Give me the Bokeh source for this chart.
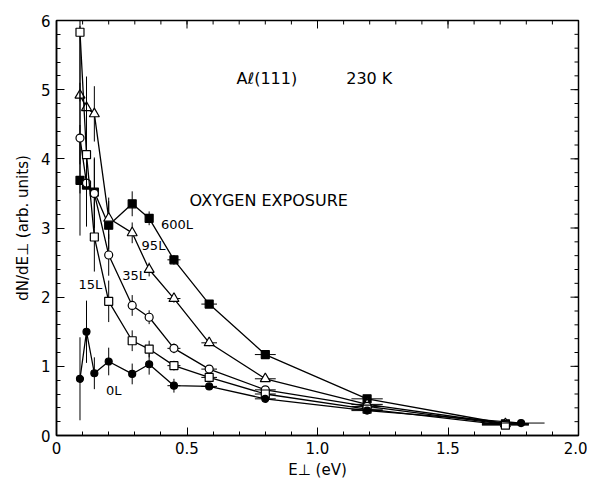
from bokeh.plotting import figure
from bokeh.models import Range1d, Label, FixedTicker
from bokeh.embed import file_html
from bokeh.resources import INLINE

# ---- data ----
x_pts = [0.09, 0.115, 0.145, 0.20, 0.29, 0.355, 0.45, 0.585, 0.80, 1.19, 1.72]
x_0L = [0.09, 0.115, 0.145, 0.20, 0.29, 0.355, 0.45, 0.585, 0.80, 1.19, 1.78]

y_600L = [3.69, 3.62, 3.52, 3.04, 3.35, 3.14, 2.54, 1.90, 1.17, 0.53, 0.17]
y_95L = [4.92, 4.74, 4.65, 3.14, 2.93, 2.40, 1.98, 1.34, 0.82, 0.45, 0.17]
y_35L = [4.30, 3.65, 3.50, 2.61, 1.88, 1.71, 1.26, 0.96, 0.66, 0.42, 0.16]
y_15L = [5.83, 4.06, 2.87, 1.94, 1.37, 1.25, 1.01, 0.84, 0.60, 0.38, 0.15]
y_0L = [0.82, 1.50, 0.90, 1.07, 0.89, 1.03, 0.72, 0.71, 0.53, 0.36, 0.18]

ey_600L = [0.8, 0.6, 0.5, 0.35, 0.18, 0.10, 0.07, 0.05, 0.04, 0.03, 0.02]
ey_95L = [1.0, 0.45, 0.40, 0.30, 0.15, 0.10, 0.06, 0.05, 0.04, 0.03, 0.02]
ey_35L = [0.8, 0.6, 0.5, 0.30, 0.15, 0.10, 0.07, 0.05, 0.04, 0.03, 0.02]
ey_15L = [1.0, 0.9, 0.5, 0.30, 0.15, 0.12, 0.07, 0.05, 0.04, 0.03, 0.02]
ey_0L = [0.6, 0.45, 0.23, 0.20, 0.15, 0.15, 0.10, 0.05, 0.04, 0.03, 0.02]
ex_all = [0.0, 0.0, 0.0, 0.0, 0.0, 0.0, 0.025, 0.03, 0.04, 0.06, 0.09]

x_ticks = [0, 0.5, 1.0, 1.5, 2.0]
x_tick_labels = ["0", "0.5", "1.0", "1.5", "2.0"]
y_ticks = [0, 1, 2, 3, 4, 5, 6]
y_tick_labels = ["0", "1", "2", "3", "4", "5", "6"]

FONT = "DejaVu Sans"
XMAX, YMAX = 2.0, 6.0

p = figure(width=587, height=481, output_backend="svg", toolbar_location=None,
           x_range=Range1d(0, XMAX), y_range=Range1d(0, YMAX),
           min_border_left=56, min_border_right=9, min_border_top=20, min_border_bottom=45)
p.xgrid.visible = False
p.ygrid.visible = False
p.outline_line_color = "black"
p.outline_line_width = 1.5
p.background_fill_color = "white"
p.border_fill_color = "white"

xminor = [round(0.1 * i, 2) for i in range(21)]
yminor = [round(0.2 * i, 2) for i in range(31)]

p.xaxis.ticker = FixedTicker(ticks=x_ticks, minor_ticks=xminor)
p.yaxis.ticker = FixedTicker(ticks=y_ticks, minor_ticks=yminor)
p.xaxis.major_label_overrides = dict(zip(x_ticks, x_tick_labels))
p.yaxis.major_label_overrides = dict(zip(y_ticks, y_tick_labels))
p.xaxis.axis_label = "E\u22a5 (eV)"
p.yaxis.axis_label = "dN/dE\u22a5 (arb. units)"
for ax in p.xaxis + p.yaxis:
    ax.axis_line_color = "black"
    ax.axis_line_width = 1.5
    ax.major_tick_in = 8
    ax.major_tick_out = 0
    ax.minor_tick_in = 4
    ax.minor_tick_out = 0
    ax.major_tick_line_color = "black"
    ax.minor_tick_line_color = "black"
    ax.major_label_text_font = FONT
    ax.major_label_text_color = "black"
    ax.major_label_text_font_size = "15px"
    ax.axis_label_text_font = FONT
    ax.axis_label_text_font_style = "normal"
    ax.axis_label_text_color = "black"
    ax.axis_label_text_font_size = "15px"
p.xaxis.major_label_standoff = 6
p.yaxis.major_label_standoff = 6
p.xaxis.axis_label_standoff = 4
p.yaxis.axis_label_standoff = 6

# mirrored inward ticks on the top and right edges
tx = 8 / 261.0
ty = 8 / 69.3
p.segment(x0=x_ticks, x1=x_ticks, y0=[YMAX] * len(x_ticks), y1=[YMAX - ty] * len(x_ticks),
          line_color="black", line_width=1)
p.segment(x0=xminor, x1=xminor, y0=[YMAX] * len(xminor), y1=[YMAX - ty / 2] * len(xminor),
          line_color="black", line_width=1)
p.segment(x0=[XMAX] * len(y_ticks), x1=[XMAX - tx] * len(y_ticks), y0=y_ticks, y1=y_ticks,
          line_color="black", line_width=1)
p.segment(x0=[XMAX] * len(yminor), x1=[XMAX - tx / 2] * len(yminor), y0=yminor, y1=yminor,
          line_color="black", line_width=1)

series = [
    (x_pts, y_600L, ey_600L, "square", "black", 8),
    (x_pts, y_95L, ey_95L, "triangle", "white", 10),
    (x_pts, y_35L, ey_35L, "circle", "white", 8),
    (x_pts, y_15L, ey_15L, "square", "white", 8),
    (x_0L, y_0L, ey_0L, "circle", "black", 7),
]

for xs, ys, es, mk, fill, sz in series:
    p.segment(x0=xs, x1=xs, y0=[y - e for y, e in zip(ys, es)], y1=[y + e for y, e in zip(ys, es)],
              line_color="black", line_width=1)
    p.segment(x0=[x - e for x, e in zip(xs, ex_all)], x1=[x + e for x, e in zip(xs, ex_all)],
              y0=ys, y1=ys, line_color="black", line_width=1)
    p.line(xs, ys, line_color="black", line_width=1.3)
    p.scatter(xs, ys, marker=mk, size=sz, fill_color=fill, line_color="black", line_width=1.2)


def lab(x, y, t, size="12px"):
    p.add_layout(Label(x=x, y=y, text=t, text_font=FONT, text_font_size=size,
                       text_baseline="middle", text_align="left", text_color="black"))


lab(0.69, 5.16, "A\u2113(111)", "16px")
lab(1.11, 5.16, "230 K", "16px")
lab(0.51, 3.40, "OXYGEN EXPOSURE", "16px")
lab(0.40, 3.05, "600L", "13px")
lab(0.326, 2.75, "95L", "13px")
lab(0.252, 2.32, "35L", "13px")
lab(0.084, 2.19, "15L", "13px")
lab(0.19, 0.65, "0L", "13px")

open("out.html", "w").write(file_html(p, INLINE))
